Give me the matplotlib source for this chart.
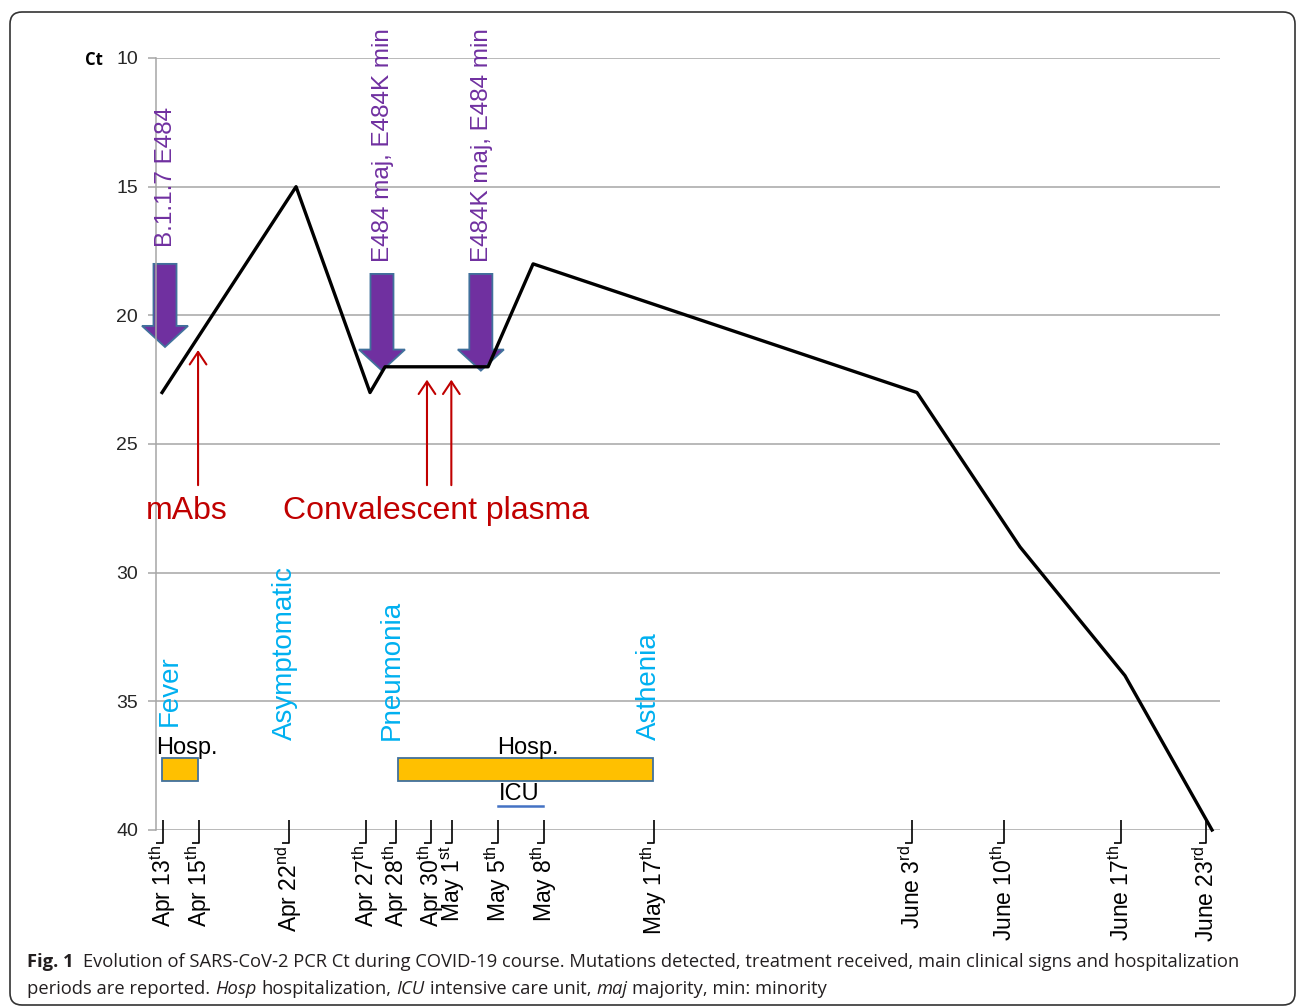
import matplotlib
matplotlib.use("Agg")
from matplotlib import pyplot
from matplotlib.patches import FancyArrow, FancyArrowPatch, FancyBboxPatch
from matplotlib.path import Path

pyplot.rcParams['font.family'] = 'Liberation Sans'
pyplot.rcParams['mathtext.fontset'] = 'custom'
pyplot.rcParams['mathtext.rm'] = 'Liberation Sans'
pyplot.rcParams['mathtext.it'] = 'Liberation Sans:italic'
pyplot.rcParams['mathtext.bf'] = 'Liberation Sans:bold'

# x is days after Apr 13 as the dates were placed on the original axis
tick_dates = ["Apr 13", "Apr 15", "Apr 22", "Apr 27", "Apr 28", "Apr 30", "May 1",
              "May 5", "May 8", "May 17", "June 3", "June 10", "June 17", "June 23"]
tick_sufx = ["th", "th", "nd", "th", "th", "th", "st", "th", "th", "th", "rd", "th", "th", "rd"]
tick_pos = [0.07, 2.51, 8.6, 13.82, 15.85, 18.22, 19.65, 22.76, 25.88, 33.33,
            50.81, 57.05, 64.97, 70.73]

# Ct curve
ct_x = [0, 9.08, 14.09, 15.11, 22.09, 25.14, 51.15, 58.13, 65.24, 71.14]
ct_y = [23, 15, 23, 22, 22, 18, 23, 29, 34, 40]

# mutations (purple block arrows)
mut_labels = ["B.1.1.7 E484", "E484 maj, E484K min", "E484K maj, E484 min"]
mut_x = [0.2, 14.9, 21.6]
mut_top = [18.0, 18.39, 18.39]
mut_tip = [21.23, 22.15, 22.15]
mut_label_y = [17.35, 17.93, 17.93]

# treatments (red arrows)
treat_x = [2.44, 17.95, 19.6]
treat_tip = [21.35, 22.5, 22.5]
treat_base = 26.6
treat_labels = ["mAbs", "Convalescent plasma"]
treat_label_x = [1.69, 18.56]

# clinical signs
sign_labels = ["Fever", "Asymptomatic", "Pneumonia", "Asthenia"]
sign_x = [0.54, 8.33, 15.58, 33.0]
sign_y = [35.96, 36.5, 36.5, 36.5]

# hospitalization periods
hosp_start = [0.0, 16.0]
hosp_end = [2.44, 33.27]
icu_start = 22.76
icu_end = 25.81

purple = "#7030A0"
edge_blue = "#41719C"
red = "#C00000"
cyan = "#00B0F0"
grid_gray = "#A6A6A6"

W, H = 1296, 1008
fig = pyplot.figure(figsize=(W / 100, H / 100), dpi=100)
ax = fig.add_axes([156 / W, 1 - 830 / H, (1220 - 156) / W, (830 - 58) / H])

ax.set_xlim(-0.41, 71.68)
ax.set_ylim(40, 10)
ax.set_yticks([10, 15, 20, 25, 30, 35, 40])
ax.yaxis.grid(True, color=grid_gray, lw=1.1)
ax.set_axisbelow(True)
for s in ["top", "right", "bottom"]:
    ax.spines[s].set_visible(False)
ax.spines["left"].set_color(grid_gray)
ax.spines["left"].set_linewidth(1.1)
ax.tick_params(axis="y", length=5.8, width=1.1, color=grid_gray, pad=7,
               labelsize=14, labelcolor="#262626")

labels = ["%s$^{\\mathrm{%s}}$" % (d, s) for d, s in zip(tick_dates, tick_sufx)]
ax.set_xticks(tick_pos, labels, rotation=90, ha="right", va="center",
              rotation_mode="anchor", fontsize=16.5)
ax.tick_params(axis="x", length=0, pad=11)

# "_|" shaped tick marks
foot = Path([(0, 10), (0, -13), (-7, -13)], [Path.MOVETO, Path.LINETO, Path.LINETO])
ax.plot(tick_pos, [40] * len(tick_pos), linestyle="none", marker=foot, markersize=18.7,
        markerfacecolor="none", markeredgecolor="black", markeredgewidth=1.2,
        clip_on=False, zorder=4)

ax.plot(ct_x, ct_y, color="black", lw=2.4, clip_on=False, zorder=3)

for x, y0, y1, ly, lab in zip(mut_x, mut_top, mut_tip, mut_label_y, mut_labels):
    ax.add_patch(FancyArrow(x, y0, 0, y1 - y0, width=1.56, head_width=3.12,
                            head_length=0.82, length_includes_head=True,
                            fc=purple, ec=edge_blue, lw=1.3, zorder=2, clip_on=False))
    ax.text(x + 0.05, ly, lab, rotation=90, ha="center", va="bottom",
            color=purple, fontsize=17.5)

for x, tip in zip(treat_x, treat_tip):
    ax.add_patch(FancyArrowPatch((x, treat_base), (x, tip),
                                 arrowstyle="->,head_length=0.45,head_width=0.3",
                                 mutation_scale=20, color=red, lw=1.5,
                                 shrinkA=0, shrinkB=0, zorder=2))
for x, lab in zip(treat_label_x, treat_labels):
    ax.text(x, 27.6, lab, ha="center", va="center", color=red, fontsize=23)

for x, y, lab in zip(sign_x, sign_y, sign_labels):
    ax.text(x, y, lab, rotation=90, ha="center", va="bottom", color=cyan, fontsize=20)

ax.barh([37.65] * len(hosp_start), [e - s for s, e in zip(hosp_start, hosp_end)],
        left=hosp_start, height=0.9, color="#FFC000", edgecolor=edge_blue, lw=1.3,
        zorder=2)
ax.text(hosp_start[0] - 0.4, 36.8, "Hosp.", ha="left", va="center", fontsize=17)
ax.text(24.8, 36.82, "Hosp.", ha="center", va="center", fontsize=17)
ax.text((icu_start + icu_end) / 2 - 0.1, 38.62, "ICU", ha="center", va="center", fontsize=17)
ax.plot([icu_start, icu_end], [39.07, 39.07], color="#4472C4", lw=1.8)

fig.text(94 / W, 1 - 60 / H, "Ct", ha="center", va="center", fontsize=12,
         weight="bold", family="Open Sans")

# caption
cap = dict(family="Open Sans", fontsize=13.2, va="baseline", color="#231F20")
t = fig.text(27 / W, 1 - 967 / H, "Fig. 1", weight="bold", **cap)
ax.annotate("Evolution of SARS-CoV-2 PCR Ct during COVID-19 course. Mutations detected, "
            "treatment received, main clinical signs and hospitalization",
            xy=(1, 0), xycoords=t, xytext=(7, 0), textcoords="offset points",
            annotation_clip=False, **dict(cap, va="bottom"))
pieces = [("periods are reported.", "normal"), ("Hosp", "italic"),
          ("hospitalization,", "normal"), ("ICU", "italic"),
          ("intensive care unit,", "normal"), ("maj", "italic"),
          ("majority, min: minority", "normal")]
prev = fig.text(27 / W, 1 - 994 / H, pieces[0][0], **cap)
for txt, st in pieces[1:]:
    prev = ax.annotate(txt, xy=(1, 0), xycoords=prev, xytext=(3.6, 0),
                       textcoords="offset points", annotation_clip=False,
                       style=st, **dict(cap, va="bottom"))

fig.patches.append(FancyBboxPatch((0.10, 0.03), 12.85, 9.93,
                                  boxstyle="round,pad=0,rounding_size=0.12",
                                  transform=fig.dpi_scale_trans, fill=False,
                                  ec="#333333", lw=1.2, figure=fig))

pyplot.savefig("out.png", dpi=100)
